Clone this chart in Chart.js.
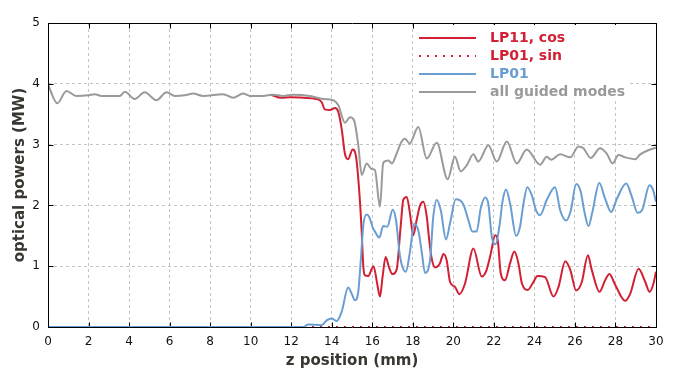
<!DOCTYPE html>
<html>
<head>
<meta charset="utf-8">
<script src="https://cdn.jsdelivr.net/npm/chart.js@4"></script>
<style>
  html, body { margin: 0; padding: 0; background: #fff; }
  #wrap { width: 699px; height: 373px; position: relative; }
</style>
</head>
<body>
<div id="wrap"><canvas id="lineChart"></canvas></div>
<script>
// tick labels
const zTicks = [0, 2, 4, 6, 8, 10, 12, 14, 16, 18, 20, 22, 24, 26, 28, 30];
const powerTicks = [0, 1, 2, 3, 4, 5];

const seriesNames = ['LP11, cos', 'LP01, sin', 'LP01', 'all guided modes'];
const seriesColors = ['#d21f33', '#d21f33', '#6a9ed2', '#9a9a9a'];

// LP11, cos  (hidden under the grey curve before ~11.5 mm)
const zLP11 = [11.0, 11.52, 11.94, 12.6, 13.25, 13.5, 13.66, 13.91, 14.16, 14.32, 14.49, 14.65, 14.81, 15.03, 15.2,
  15.36, 15.47, 15.56, 15.64, 15.8, 16.06, 16.25, 16.38, 16.51, 16.66, 16.82, 16.99, 17.2, 17.4, 17.53, 17.7,
  17.86, 18.02, 18.19, 18.36, 18.52, 18.69, 18.81, 18.93, 19.1, 19.34, 19.51, 19.67, 19.84, 20.08, 20.3, 20.58,
  20.99, 21.4, 21.61, 21.85, 22.06, 22.19, 22.34, 22.55, 22.8, 23.01, 23.21, 23.38, 23.67, 23.95, 24.15, 24.53,
  24.94, 25.19, 25.52, 25.77, 26.06, 26.34, 26.64, 26.83, 27.21, 27.49, 27.7, 27.99, 28.48, 28.73, 29.14, 29.47,
  29.68, 29.88, 30];
const pLP11 = [3.82, 3.77, 3.78, 3.77, 3.75, 3.70, 3.58, 3.57, 3.60, 3.54, 3.26, 2.85, 2.76, 2.92, 2.80,
  2.22, 1.62, 0.99, 0.85, 0.84, 1.00, 0.70, 0.50, 0.83, 1.15, 0.99, 0.87, 0.94, 1.65, 2.09, 2.14,
  1.87, 1.51, 1.76, 2.00, 2.06, 1.81, 1.43, 1.13, 0.98, 1.05, 1.20, 1.10, 0.74, 0.66, 0.54, 0.72,
  1.29, 0.83, 0.91, 1.21, 1.51, 1.43, 0.88, 0.77, 1.05, 1.24, 1.05, 0.72, 0.61, 0.74, 0.84, 0.82,
  0.50, 0.66, 1.08, 0.94, 0.60, 0.74, 1.18, 0.94, 0.58, 0.77, 0.87, 0.69, 0.43, 0.55, 0.96, 0.74,
  0.58, 0.72, 0.91];

// LP01, sin
const zSin = [0, 10, 20, 30];
const pSin = [0, 0, 0, 0];

// LP01
const zLP01 = [0, 12.6, 12.84, 13.5, 13.75, 14.0, 14.24, 14.49, 14.81, 14.98, 15.15, 15.31, 15.44, 15.56, 15.72,
  15.85, 16.02, 16.13, 16.35, 16.54, 16.74, 17.01, 17.17, 17.37, 17.66, 17.86, 18.07, 18.27, 18.44, 18.6, 18.85,
  19.01, 19.18, 19.38, 19.64, 19.84, 20.12, 20.49, 20.74, 20.94, 21.15, 21.35, 21.57, 21.73, 21.9, 22.09, 22.27,
  22.44, 22.6, 22.8, 23.1, 23.29, 23.46, 23.65, 23.87, 24.08, 24.28, 24.61, 25.02, 25.27, 25.57, 25.8, 26.06,
  26.29, 26.47, 26.67, 26.86, 27.2, 27.49, 27.79, 28.07, 28.53, 28.81, 29.09, 29.31, 29.68, 29.85, 30];
const pLP01 = [0, 0, 0.04, 0.03, 0.11, 0.14, 0.10, 0.25, 0.65, 0.55, 0.44, 0.58, 1.13, 1.68, 1.85,
  1.81, 1.64, 1.57, 1.47, 1.66, 1.65, 1.93, 1.76, 1.16, 0.91, 1.24, 1.70, 1.59, 1.24, 0.89, 1.10,
  1.81, 2.09, 1.92, 1.44, 1.71, 2.10, 2.02, 1.76, 1.57, 1.57, 1.95, 2.13, 2.02, 1.48, 1.36, 1.65,
  2.09, 2.26, 2.03, 1.50, 1.65, 2.03, 2.30, 2.17, 1.92, 1.84, 2.09, 2.30, 1.92, 1.75, 1.92, 2.35,
  2.22, 1.89, 1.66, 1.89, 2.37, 2.11, 1.89, 2.11, 2.36, 2.14, 1.88, 1.92, 2.33, 2.26, 2.06];

// all guided modes
const zAll = [0, 0.46, 0.91, 1.4, 1.98, 2.3, 2.64, 3.54, 3.79, 4.28, 4.77, 5.35, 5.85, 6.26, 6.75, 7.16, 7.65,
  8.64, 9.14, 9.63, 9.96, 10.6, 11.1, 11.6, 12.1, 12.92, 13.58, 14.07, 14.32, 14.65, 14.9, 15.1, 15.31, 15.48,
  15.72, 15.97, 16.13, 16.38, 16.54, 16.79, 16.97, 17.2, 17.45, 17.6, 17.85, 18.27, 18.69, 19.18, 19.72, 20.08,
  20.36, 20.66, 20.99, 21.23, 21.73, 22.14, 22.64, 23.13, 23.62, 24.28, 24.61, 24.83, 25.27, 25.77, 26.17, 26.42,
  26.78, 27.24, 27.57, 27.86, 28.15, 28.48, 28.97, 29.22, 29.71, 30];
const pAll = [3.99, 3.68, 3.88, 3.80, 3.81, 3.83, 3.80, 3.80, 3.87, 3.75, 3.86, 3.73, 3.86, 3.80, 3.81, 3.84, 3.80,
  3.83, 3.77, 3.84, 3.80, 3.80, 3.82, 3.80, 3.82, 3.80, 3.75, 3.73, 3.65, 3.36, 3.45, 3.40, 2.99, 2.50,
  2.69, 2.60, 2.58, 1.98, 2.70, 2.74, 2.69, 2.85, 3.05, 3.10, 3.02, 3.29, 2.77, 3.03, 2.43, 2.80,
  2.56, 2.66, 2.84, 2.72, 2.99, 2.72, 3.05, 2.69, 2.92, 2.67, 2.80, 2.75, 2.84, 2.79, 2.97, 2.94,
  2.78, 2.94, 2.85, 2.69, 2.83, 2.79, 2.76, 2.84, 2.92, 2.95];

function toPoints(xs, ys) {
  return xs.map((x, i) => ({ x: x, y: ys[i] }));
}

// black border with inward ticks; the bottom edge goes under the curves
function drawFrame(chart, withBottom) {
  const c = chart.ctx;
  const a = chart.chartArea;
  const xs = chart.scales.x, ys = chart.scales.y;
  const l = Math.round(a.left) + 0.5, r = Math.round(a.right) + 0.5;
  const t = Math.round(a.top) + 0.5, b = Math.round(a.bottom) + 0.5;
  c.save();
  c.setLineDash([]);
  c.strokeStyle = '#000';
  c.lineWidth = 1;
  c.beginPath();
  if (withBottom) {
    c.moveTo(l, b); c.lineTo(r, b);
    zTicks.forEach(v => {
      const px = Math.round(xs.getPixelForValue(v)) + 0.5;
      c.moveTo(px, b); c.lineTo(px, b - 5);
    });
  } else {
    c.moveTo(l, b); c.lineTo(l, t); c.lineTo(r, t); c.lineTo(r, b);
    zTicks.forEach(v => {
      const px = Math.round(xs.getPixelForValue(v)) + 0.5;
      c.moveTo(px, t); c.lineTo(px, t + 5);
    });
    powerTicks.forEach(v => {
      const py = Math.round(ys.getPixelForValue(v)) + 0.5;
      c.moveTo(l, py); c.lineTo(l + 5, py);
      c.moveTo(r, py); c.lineTo(r - 5, py);
    });
  }
  c.stroke();
  c.restore();
}

const framePlugin = {
  id: 'gpframe',
  beforeDatasetsDraw(chart) {
    drawFrame(chart, true);
  },
  afterDatasetsDraw(chart) {
    drawFrame(chart, false);

    // gnuplot style key in the top right corner
    const c = chart.ctx;
    c.save();
    c.fillStyle = '#fff';
    c.fillRect(416, 25, 214, 74);
    c.font = 'bold 14px "DejaVu Sans"';
    c.textBaseline = 'middle';
    seriesNames.forEach((name, i) => {
      const y = 38 + i * 18;
      c.strokeStyle = seriesColors[i];
      c.lineWidth = 2;
      c.setLineDash(i === 1 ? [2, 6] : []);
      c.beginPath();
      c.moveTo(419, y); c.lineTo(476, y);
      c.stroke();
      c.fillStyle = seriesColors[i];
      c.fillText(name, 490, y);
    });
    c.restore();
  }
};

const canvas = document.getElementById('lineChart');

new Chart(canvas, {
  type: 'line',
  data: {
    datasets: [
      {
        label: seriesNames[0],
        data: toPoints(zLP11, pLP11),
        borderColor: seriesColors[0],
        borderWidth: 2,
        order: 3
      },
      {
        label: seriesNames[1],
        data: toPoints(zSin, pSin),
        borderColor: seriesColors[1],
        borderWidth: 2,
        borderDash: [2, 6],
        order: 2
      },
      {
        label: seriesNames[2],
        data: toPoints(zLP01, pLP01),
        borderColor: seriesColors[2],
        borderWidth: 2,
        order: 1
      },
      {
        label: seriesNames[3],
        data: toPoints(zAll, pAll),
        borderColor: seriesColors[3],
        borderWidth: 2,
        order: 0
      }
    ]
  },
  plugins: [framePlugin],
  options: {
    responsive: true,
    maintainAspectRatio: false,
    animation: false,
    events: [],
    layout: { padding: { left: 0, right: 43, top: 23, bottom: 0 } },
    elements: {
      point: { radius: 0 },
      line: { cubicInterpolationMode: 'monotone', fill: false }
    },
    plugins: {
      legend: { display: false },
      tooltip: { enabled: false }
    },
    scales: {
      x: {
        type: 'linear',
        min: 0,
        max: 30,
        afterBuildTicks: s => { s.ticks = zTicks.map(v => ({ value: v })); },
        afterFit: s => { s.height = 46; },
        grid: { color: '#c4c4c4', lineWidth: 1, drawTicks: false },
        border: { display: false, dash: [3, 3] },
        ticks: {
          padding: 8,
          maxRotation: 0,
          color: '#111',
          font: { family: 'DejaVu Sans', size: 12 }
        },
        title: {
          display: true,
          text: 'z position (mm)',
          color: '#3a3632',
          padding: { top: 0, bottom: 3 },
          font: { family: 'DejaVu Sans', size: 15, weight: 'bold' }
        }
      },
      y: {
        type: 'linear',
        min: 0,
        max: 5,
        afterBuildTicks: s => { s.ticks = powerTicks.map(v => ({ value: v })); },
        afterFit: s => { s.width = 48; },
        grid: { color: '#c4c4c4', lineWidth: 1, drawTicks: false },
        border: { display: false, dash: [3, 3] },
        ticks: {
          padding: 8,
          color: '#111',
          font: { family: 'DejaVu Sans', size: 12 }
        },
        title: {
          display: true,
          text: 'optical powers (MW)',
          color: '#3a3632',
          padding: { top: 11, bottom: 0 },
          font: { family: 'DejaVu Sans', size: 15, weight: 'bold' }
        }
      }
    }
  }
});
</script>
</body>
</html>
